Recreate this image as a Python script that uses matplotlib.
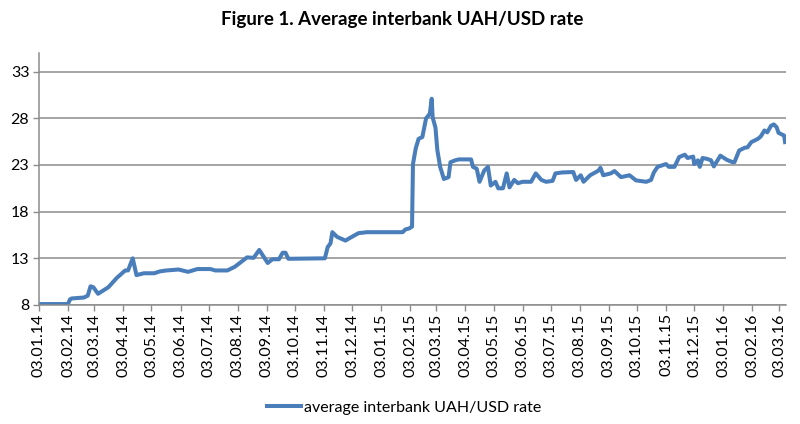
import matplotlib
matplotlib.use('Agg')
import matplotlib.pyplot as plt
import matplotlib.dates as mdates
import numpy as np
import pandas as pd

# dates and rates
dates = ['2014-01-03', '2014-02-03', '2014-02-05', '2014-02-07', '2014-02-14', '2014-02-20',
         '2014-02-24', '2014-02-27', '2014-03-02', '2014-03-07', '2014-03-18', '2014-03-27',
         '2014-04-05', '2014-04-08', '2014-04-13', '2014-04-17', '2014-04-25', '2014-05-06',
         '2014-05-12', '2014-05-19', '2014-06-01', '2014-06-11', '2014-06-21', '2014-07-05',
         '2014-07-10', '2014-07-23', '2014-07-31', '2014-08-13', '2014-08-20', '2014-08-26',
         '2014-09-04', '2014-09-09', '2014-09-16', '2014-09-20', '2014-09-23', '2014-09-26',
         '2014-11-04', '2014-11-07', '2014-11-10', '2014-11-12', '2014-11-17', '2014-11-26',
         '2014-12-01', '2014-12-10', '2014-12-19', '2015-01-16', '2015-01-26', '2015-01-29',
         '2015-02-02', '2015-02-05', '2015-02-06', '2015-02-09', '2015-02-12', '2015-02-16',
         '2015-02-20', '2015-02-24', '2015-02-26', '2015-02-27', '2015-03-02', '2015-03-04',
         '2015-03-07', '2015-03-11', '2015-03-16', '2015-03-18', '2015-03-23', '2015-03-27',
         '2015-04-09', '2015-04-11', '2015-04-15', '2015-04-18', '2015-04-23', '2015-04-27',
         '2015-04-30', '2015-05-05', '2015-05-08', '2015-05-13', '2015-05-17', '2015-05-20',
         '2015-05-25', '2015-05-29', '2015-06-03', '2015-06-12', '2015-06-17', '2015-06-23',
         '2015-06-28', '2015-07-05', '2015-07-08', '2015-07-15', '2015-07-27', '2015-07-30',
         '2015-08-04', '2015-08-07', '2015-08-14', '2015-08-23', '2015-08-25', '2015-08-28',
         '2015-09-05', '2015-09-09', '2015-09-16', '2015-09-25', '2015-10-02', '2015-10-09',
         '2015-10-13', '2015-10-18', '2015-10-21', '2015-10-25', '2015-11-03', '2015-11-06',
         '2015-11-12', '2015-11-17', '2015-11-23', '2015-11-26', '2015-12-02', '2015-12-03',
         '2015-12-07', '2015-12-09', '2015-12-12', '2015-12-17', '2015-12-21', '2015-12-24',
         '2015-12-31', '2016-01-07', '2016-01-13', '2016-01-15', '2016-01-20', '2016-01-26',
         '2016-01-29', '2016-02-02', '2016-02-09', '2016-02-12', '2016-02-16', '2016-02-19',
         '2016-02-23', '2016-02-26', '2016-02-29', '2016-03-02', '2016-03-04', '2016-03-08',
         '2016-03-09']
rates = [8.1, 8.1, 8.6, 8.7, 8.75, 8.8,
         9.0, 10.0, 9.9, 9.2, 9.9, 10.9,
         11.7, 11.7, 13.0, 11.2, 11.4, 11.4,
         11.6, 11.7, 11.8, 11.55, 11.85, 11.85,
         11.7, 11.7, 12.1, 13.1, 13.05, 13.9,
         12.5, 12.9, 12.9, 13.6, 13.6, 12.95,
         13.0, 14.2, 14.6, 15.8, 15.3, 14.9,
         15.2, 15.7, 15.8, 15.8, 15.8, 16.1,
         16.2, 16.4, 23.1, 24.8, 25.8, 26.0,
         28.0, 28.5, 30.1, 28.1, 27.0, 24.6,
         22.8, 21.5, 21.7, 23.3, 23.5, 23.6,
         23.6, 22.8, 22.6, 21.2, 22.4, 22.8,
         20.8, 21.2, 20.5, 20.5, 22.1, 20.6,
         21.4, 21.05, 21.2, 21.2, 22.1, 21.4,
         21.2, 21.3, 22.1, 22.2, 22.25, 21.4,
         21.9, 21.2, 21.9, 22.4, 22.7, 21.9,
         22.1, 22.35, 21.7, 21.9, 21.35, 21.25,
         21.2, 21.4, 22.2, 22.8, 23.1, 22.8,
         22.8, 23.85, 24.1, 23.75, 23.9, 23.1,
         23.5, 22.8, 23.75, 23.65, 23.5, 22.85,
         24.0, 23.55, 23.3, 23.3, 24.55, 24.85,
         24.9, 25.45, 25.8, 26.05, 26.7, 26.5,
         27.2, 27.35, 27.05, 26.45, 26.35, 26.15,
         25.45]
tick_dates = pd.date_range('2014-01-01', '2016-03-01', freq='MS') + pd.Timedelta(days=2)
y_ticks = [8, 13, 18, 23, 28, 33]

plt.rcParams['font.family'] = ['Lato', 'DejaVu Sans']

x = pd.to_datetime(dates)

f = plt.figure(figsize=(8, 4.24), dpi=100)
ax = f.add_axes([0.04875, 0.2807, 0.93375, 0.5943])

ax.plot(x, rates, color='#4a7ebb', lw=2.9, solid_joinstyle='round',
        label='average interbank UAH/USD rate')

ax.set_ylim(8, 35)
ax.set_yticks(y_ticks)
ax.set_xlim(pd.Timestamp('2014-01-03'), pd.Timestamp('2016-03-10'))
ax.set_xticks(tick_dates)
ax.xaxis.set_major_formatter(mdates.DateFormatter('%d.%m.%y'))
ax.tick_params(axis='x', rotation=90, labelsize=11.5, length=4, width=1, color='#8c8c8c', pad=2)
ax.tick_params(axis='y', labelsize=11.5, length=4, width=1, color='#8c8c8c', pad=3)

ax.grid(True, axis='y', color='#8c8c8c', lw=1.1)
ax.set_axisbelow(True)
for s in ['top', 'right']:
    ax.spines[s].set_visible(False)
for s in ['left', 'bottom']:
    ax.spines[s].set_color('#8c8c8c')
    ax.spines[s].set_linewidth(1.1)

f.suptitle('Figure 1. Average interbank UAH/USD rate', x=0.503, y=0.975,
           fontsize=13.5, fontweight='bold')

leg = f.legend(loc='center', bbox_to_anchor=(0.505, 0.038), frameon=False,
               fontsize=11.5, handlelength=2.1, handletextpad=0.2)

plt.savefig('out.png', dpi=100)
